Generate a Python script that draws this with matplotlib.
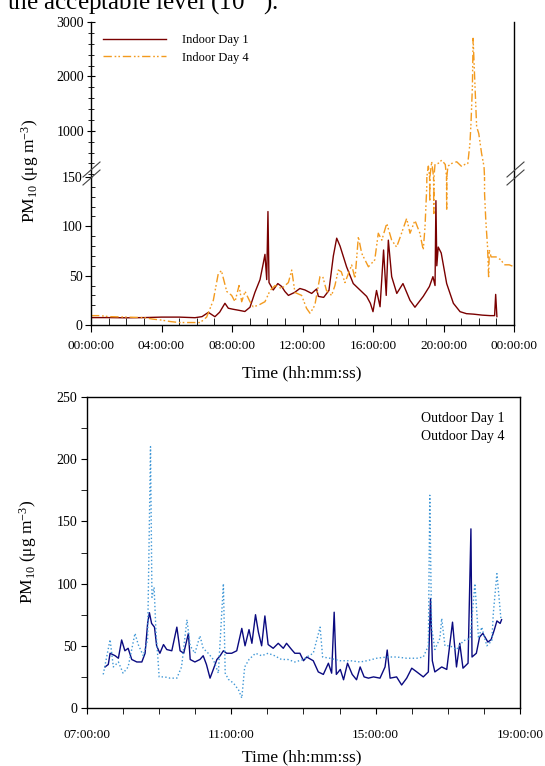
import matplotlib
matplotlib.use('Agg')
import matplotlib.pyplot as plt
from matplotlib.lines import Line2D
from matplotlib.ticker import MultipleLocator

plt.rcParams['font.family'] = ['Liberation Serif', 'DejaVu Serif']
plt.rcParams['mathtext.fontset'] = 'custom'
plt.rcParams['mathtext.rm'] = 'Liberation Serif'
plt.rcParams['mathtext.it'] = 'Liberation Serif:italic'

# ---- data: indoor (hours since midnight, PM10 ug/m3) ----
indoor_d1_t = [0.0, 1.0, 2.0, 3.0, 4.0, 5.0, 5.9, 6.3, 6.66, 7.03, 7.3, 7.6, 7.79, 8.05,
               8.36, 8.73, 9.02, 9.3, 9.59, 9.78, 9.87, 9.97, 10.04, 10.1, 10.34, 10.6,
               10.82, 11.0, 11.2, 11.55, 11.85, 12.14, 12.52, 12.8, 12.9, 13.2, 13.5,
               13.75, 13.94, 14.13, 14.5, 14.88, 15.26, 15.64, 15.85, 16.0, 16.2, 16.4,
               16.6, 16.75, 16.87, 17.06, 17.35, 17.7, 18.1, 18.38, 18.85, 19.2, 19.4,
               19.52, 19.57, 19.62, 19.7, 19.87, 20.18, 20.56, 20.94, 21.3, 21.7, 22.2,
               22.64, 22.9, 22.96, 23.03]
indoor_d1_v = [7.5, 7.5, 7.3, 7.5, 8.0, 8.0, 7.4, 8.5, 12.8, 8.4, 13, 22, 17, 16,
               15, 13.7, 18, 33, 46, 63, 71.6, 46, 115, 43, 35.5, 42,
               39, 34, 30, 33, 37, 35.5, 32, 36.5, 29, 28, 35,
               70, 88, 80, 59, 42, 35.5, 29, 22, 13.5, 35, 18.5,
               76, 30, 86, 49, 32, 42, 25, 18, 29, 39, 49,
               40, 126, 60, 79, 73, 42, 22, 13.5, 11.5, 11, 10,
               9.5, 9.5, 31, 8.5]

indoor_d4_t = [0.0, 0.5, 1.0, 2.0, 3.0, 3.5, 4.0, 4.5, 5.0, 5.5, 6.2, 6.56, 6.94, 7.22,
               7.4, 7.7, 7.98, 8.17, 8.4, 8.55, 8.74, 9.02, 9.2, 9.5, 9.68, 9.87, 10.16,
               10.44, 10.82, 11.2, 11.39, 11.57, 11.95, 12.23, 12.43, 12.7, 12.99, 13.15,
               13.36, 13.65, 13.84, 14.03, 14.2, 14.41, 14.79, 14.98, 15.17, 15.36, 15.74,
               16.1, 16.3, 16.5, 16.78, 17.06, 17.34, 17.62, 17.91, 18.1, 18.38, 18.66,
               18.85, 18.95, 19.05, 19.14, 19.22, 19.33, 19.45, 19.52, 19.7, 19.9, 20.1,
               20.18, 20.25, 20.47, 20.75, 21.04, 21.2, 21.38, 21.5, 21.56, 21.64, 21.68,
               21.75, 21.88, 22.0, 22.16, 22.3, 22.33, 22.4, 22.5, 22.56, 22.6, 22.7,
               22.98, 23.26, 23.45, 23.73, 24.0]
indoor_d4_v = [9.5, 9.5, 8.5, 8.0, 7.5, 6.0, 5.0, 3.5, 2.5, 2.5, 2.5, 8, 25, 52,
               55, 34, 30, 23.6, 40, 23.6, 34, 23.6, 18.5, 20, 21.8, 23.6, 35,
               40, 37, 43, 55.7, 33, 30, 16.9, 11.8, 20, 49, 49,
               35, 30, 40, 55.7, 54, 43, 60.8, 47, 89.5, 72.6, 59,
               66, 93, 86, 103, 86, 79, 93, 108, 93, 106, 93,
               76, 99, 140, 350, 125, 430, 113, 390, 400, 460, 380,
               116, 350, 400, 430, 340, 380, 400, 770, 1140, 1810, 2700,
               2120, 1075, 950, 585, 340, 133, 106, 79, 49, 76, 69,
               69, 66, 61, 61, 59]

# ---- data: outdoor ----
outdoor_d1_t = [7.5, 7.59, 7.64, 7.78, 7.87, 7.96, 8.05, 8.14, 8.24, 8.38, 8.52, 8.61,
                8.68, 8.73, 8.79, 8.87, 8.93, 9.02, 9.12, 9.21, 9.35, 9.49, 9.58, 9.68,
                9.81, 9.86, 9.99, 10.13, 10.22, 10.31, 10.41, 10.5, 10.6, 10.69, 10.78,
                10.87, 11.01, 11.15, 11.29, 11.38, 11.49, 11.57, 11.67, 11.75, 11.84,
                11.93, 12.02, 12.16, 12.3, 12.44, 12.53, 12.67, 12.76, 12.9, 13.0, 13.09,
                13.27, 13.41, 13.55, 13.69, 13.78, 13.85, 13.91, 14.02, 14.11, 14.22,
                14.35, 14.47, 14.57, 14.68, 14.8, 14.94, 15.12, 15.26, 15.32, 15.4, 15.58,
                15.72, 15.86, 16.0, 16.14, 16.32, 16.46, 16.52, 16.57, 16.64, 16.83, 16.97,
                17.13, 17.24, 17.33, 17.42, 17.56, 17.64, 17.67, 17.79, 17.88, 17.97,
                18.11, 18.2, 18.29, 18.36, 18.45, 18.49]
outdoor_d1_v = [33, 35, 44, 42, 40, 54.7, 46, 48, 39, 37, 37, 44,
                68, 76.6, 68, 65, 50, 44, 51, 47, 46, 65, 46, 44,
                60, 39, 37, 39, 42, 35, 24, 31, 39, 42, 46,
                44, 44, 46, 64, 50, 63, 52, 75, 61, 50,
                74, 51, 48, 52, 48, 52, 47, 44, 44, 38, 41,
                38, 29, 27, 36, 28, 77, 27, 31, 22.7, 36,
                27, 22.7, 33, 25, 24, 25, 24, 33, 46.6, 24, 25,
                18.5, 24, 32, 29, 25, 29, 88, 38, 29, 33, 31,
                69, 33, 52, 32, 36, 144, 41, 44, 57, 60,
                53, 55, 63, 70, 68, 71]

outdoor_d4_t = [7.45, 7.64, 7.73, 7.87, 8.0, 8.14, 8.33, 8.42, 8.56, 8.68, 8.76, 8.8,
                8.86, 8.91, 8.96, 9.0, 9.15, 9.3, 9.49, 9.62, 9.77, 9.86, 9.99, 10.13,
                10.22, 10.36, 10.5, 10.64, 10.78, 10.83, 10.92, 11.06, 11.2, 11.29, 11.37,
                11.49, 11.67, 11.84, 12.02, 12.2, 12.39, 12.57, 12.76, 13.0, 13.09, 13.27,
                13.46, 13.53, 13.73, 14.02, 14.3, 14.57, 14.76, 15.03, 15.31, 15.58,
                15.86, 16.14, 16.32, 16.46, 16.5, 16.55, 16.64, 16.78, 16.83, 16.92,
                17.06, 17.24, 17.43, 17.62, 17.75, 17.85, 17.94, 18.08, 18.22, 18.26,
                18.36, 18.44, 18.47]
outdoor_d4_v = [27, 55, 33, 37, 28, 33, 60, 51, 42, 55, 210, 89,
                97, 62, 42, 25, 25, 24, 24, 33, 71, 50, 44, 58,
                48, 44, 39, 28, 100, 28, 23, 20, 14.5, 8, 33,
                39, 44, 42, 44, 42, 39, 39, 37, 39, 41, 44,
                65, 41, 40, 38, 38, 37, 38, 40, 41, 41,
                40, 40, 41, 50, 171, 65, 47, 56, 72, 50,
                50, 47, 54, 56, 100, 56, 65, 50, 54, 76,
                108, 82, 72]

top_xticks = [0, 4, 8, 12, 16, 20, 24]
top_xticklabels = ['00:00:00', '04:00:00', '08:00:00', '12:00:00', '16:00:00', '20:00:00', '00:00:00']
bot_xticks = [7, 11, 15, 19]
bot_xticklabels = ['07:00:00', '11:00:00', '15:00:00', '19:00:00']

W, H = 545, 766
fig = plt.figure(figsize=(W / 100, H / 100), dpi=100)


def fx(px):
    return px / W


def fy(py):
    return 1 - py / H


c_in1 = '#7a0000'
c_in4 = '#f39a1e'
c_out1 = '#0a0a80'
c_out4 = '#3f97d6'
ls_in4 = (0, (6, 2, 1.2, 1.5, 1.2, 2))

# document text cut at the top of the page (as in the source scan)
fig.text(fx(7), fy(10), 'the acceptable level (10$^{-6}$).', fontsize=18, va='baseline', ha='left')

# ---- top: broken y axis ----
ax_lo = fig.add_axes([fx(91), fy(325), fx(514 - 91), (325 - 177) / H])
ax_hi = fig.add_axes([fx(91), fy(177), fx(514 - 91), (177 - 22) / H])

for ax in (ax_lo, ax_hi):
    ax.plot(indoor_d1_t, indoor_d1_v, color=c_in1, lw=1.0, label='Indoor Day 1')
    ax.plot(indoor_d4_t, indoor_d4_v, color=c_in4, lw=1.0, ls=ls_in4, label='Indoor Day 4')
    ax.set_xlim(0, 24)
    ax.spines['top'].set_visible(False)
    for s in ax.spines.values():
        s.set_linewidth(1.0)

ax_lo.set_ylim(0, 150)
ax_lo.set_yticks([0, 50, 100, 150])
ax_lo.yaxis.set_minor_locator(MultipleLocator(10))
ax_lo.tick_params(axis='y', which='major', direction='out', length=4, labelsize=10, pad=2)
ax_lo.tick_params(axis='y', which='minor', direction='in', length=3)
ax_lo.set_xticks(top_xticks)
ax_lo.set_xticklabels(top_xticklabels)
ax_lo.xaxis.set_minor_locator(MultipleLocator(1))
ax_lo.tick_params(axis='x', which='major', direction='out', length=5, labelsize=9.5, pad=6)
ax_lo.tick_params(axis='x', which='minor', direction='in', length=5)

ax_hi.set_ylim(150, 3000)
ax_hi.set_yticks([1000, 2000, 3000])
ax_hi.yaxis.set_minor_locator(MultipleLocator(200))
ax_hi.tick_params(axis='y', which='major', direction='inout', length=6, labelsize=10, pad=2)
ax_hi.tick_params(axis='y', which='minor', direction='inout', length=4)
ax_hi.spines['bottom'].set_visible(False)
ax_hi.set_xticks([])

leg = ax_hi.legend(loc='upper left', bbox_to_anchor=(fx(103), fy(34)), bbox_transform=fig.transFigure,
                   frameon=False, fontsize=9, handlelength=5.0, handletextpad=1.3,
                   borderpad=0, borderaxespad=0, labelspacing=0.45)

# break marks
for x0 in (83, 507):
    for dy in (0, 8):
        fig.add_artist(Line2D([fx(x0), fx(x0 + 17)], [fy(177 + dy), fy(162 + dy)],
                              color='#444444', lw=0.8))

fig.text(fx(30), fy(171), 'PM$_{10}$ (μg m$^{-3}$)', rotation=90, ha='center', va='center', fontsize=12.5)
fig.text(fx(302), fy(373), 'Time (hh:mm:ss)', ha='center', va='center', fontsize=12.5)

# ---- bottom: outdoor ----
ax_b = fig.add_axes([fx(87), fy(708), fx(520 - 87), (708 - 397) / H])
ax_b.plot(outdoor_d1_t, outdoor_d1_v, color=c_out1, lw=1.0, label='Outdoor Day 1')
ax_b.plot(outdoor_d4_t, outdoor_d4_v, color=c_out4, lw=1.0, ls=':', label='Outdoor Day 4')
ax_b.set_xlim(7, 19)
ax_b.set_ylim(0, 250)
ax_b.set_yticks([0, 50, 100, 150, 200, 250])
ax_b.yaxis.set_minor_locator(MultipleLocator(25))
ax_b.set_xticks(bot_xticks)
ax_b.set_xticklabels(bot_xticklabels)
ax_b.xaxis.set_minor_locator(MultipleLocator(1))
ax_b.tick_params(axis='both', which='both', direction='out', length=4)
ax_b.tick_params(axis='y', labelsize=10, pad=3)
ax_b.tick_params(axis='x', labelsize=9.5, pad=11)
for s in ax_b.spines.values():
    s.set_linewidth(1.0)

leg_b = ax_b.legend(loc='upper left', bbox_to_anchor=(fx(421), fy(412)), bbox_transform=fig.transFigure,
                    frameon=False, fontsize=10, handlelength=0, handletextpad=0,
                    borderpad=0, borderaxespad=0, labelspacing=0.35)
for h in leg_b.legend_handles:
    h.set_visible(False)

fig.text(fx(28), fy(552), 'PM$_{10}$ (μg m$^{-3}$)', rotation=90, ha='center', va='center', fontsize=12.5)
fig.text(fx(302), fy(757), 'Time (hh:mm:ss)', ha='center', va='center', fontsize=12.5)

fig.savefig('out.png', dpi=100)
